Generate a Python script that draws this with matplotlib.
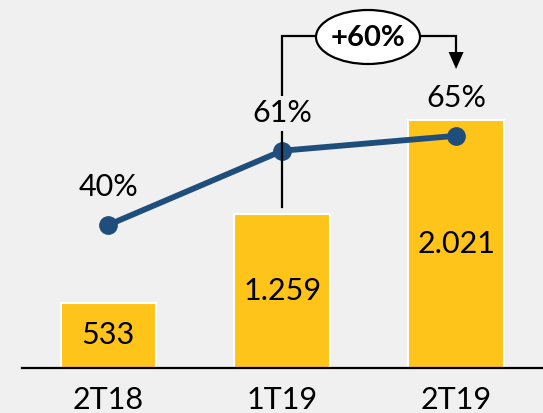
import matplotlib
matplotlib.use("Agg")
import matplotlib.pyplot as plt
from matplotlib.patches import Ellipse, Polygon
from matplotlib.lines import Line2D
from matplotlib.transforms import Affine2D
import numpy as np

categories = ["2T18", "1T19", "2T19"]
bar_values = [533, 1259, 2021]
bar_labels = ["533", "1.259", "2.021"]
margin_values = [0.403, 0.612, 0.654]
margin_labels = ["40%", "61%", "65%"]
growth_label = "+60%"

BG = "#F0F0F0"
BAR = "#FFC419"
LINE = "#1F4E7C"
FONT = ["Lato", "DejaVu Sans"]
FS = 22

W, H = 543, 413
fig = plt.figure(figsize=(W / 100, H / 100), dpi=100, facecolor=BG)
# pixel coordinates, origin top-left
px = Affine2D().scale(1 / W, -1 / H).translate(0, 1) + fig.transFigure

ax_l, ax_b, ax_t, ax_r = 21.5, 368, 8, 543
ax = fig.add_axes([ax_l / W, (H - ax_b) / H, (ax_r - ax_l) / W, (ax_b - ax_t) / H])
ax.set_facecolor("none")
x = np.arange(len(categories))
ax.bar(x, bar_values, width=0.55, color=BAR, edgecolor="white", linewidth=1.5, zorder=2)
ax.set_xlim(-0.5, len(categories) - 0.5)
ax.set_ylim(0, 2934)
for s in ["top", "right", "left"]:
    ax.spines[s].set_visible(False)
ax.spines["bottom"].set_linewidth(1.6)
ax.spines["bottom"].set_color("black")
ax.set_yticks([])
ax.set_xticks(x)
ax.set_xticklabels(categories, fontsize=FS, family=FONT)
ax.tick_params(axis="x", length=0, pad=13)
for xi, v, lab in zip(x, bar_values, bar_labels):
    ax.text(xi, v / 2, lab, ha="center", va="center", fontsize=FS, family=FONT, zorder=3)

ax2 = ax.twinx()
ax2.set_ylim(0, 1.014)
ax2.set_yticks([])
for s in ax2.spines.values():
    s.set_visible(False)
ax2.plot(x, margin_values, color=LINE, linewidth=4.2, marker="o", markersize=12.5, zorder=4)
for xi, v, lab in zip(x, margin_values, margin_labels):
    ax2.annotate(lab, (xi, v), xytext=(0, 27), textcoords="offset points",
                 ha="center", va="center", fontsize=FS, family=FONT, zorder=7,
                 bbox=dict(boxstyle="square,pad=0.12", facecolor=BG, edgecolor="none"))

# bracket annotation (pixel coordinates), drawn above the line, below labels
step = (ax_r - ax_l) / len(categories)
x1 = ax_l + 1.5 * step
x2 = ax_l + 2.5 * step
ex, ey, ew, eh = 368, 37, 104, 54
kw = dict(color="black", lw=1.6, solid_joinstyle="miter", transform=px, clip_on=False, zorder=5)
ax2.add_line(Line2D([x1, x1, ex - ew / 2], [207, 36, 36], **kw))
ax2.add_line(Line2D([ex + ew / 2, x2, x2], [36, 36, 54], **kw))
ax2.add_patch(Polygon([[x2 - 7.5, 52], [x2 + 7.5, 52], [x2, 69]], closed=True,
                      facecolor="black", edgecolor="none", transform=px, clip_on=False, zorder=5))
ax2.add_patch(Ellipse((ex, ey), ew, eh, facecolor="white", edgecolor="black", lw=1.6,
                      transform=px, clip_on=False, zorder=6))
ax2.text(ex, ey + 1.5, growth_label, ha="center", va="center", fontsize=21, fontweight="bold",
         family=FONT, transform=px, zorder=7)

fig.savefig("out.png", dpi=100, facecolor=BG)
